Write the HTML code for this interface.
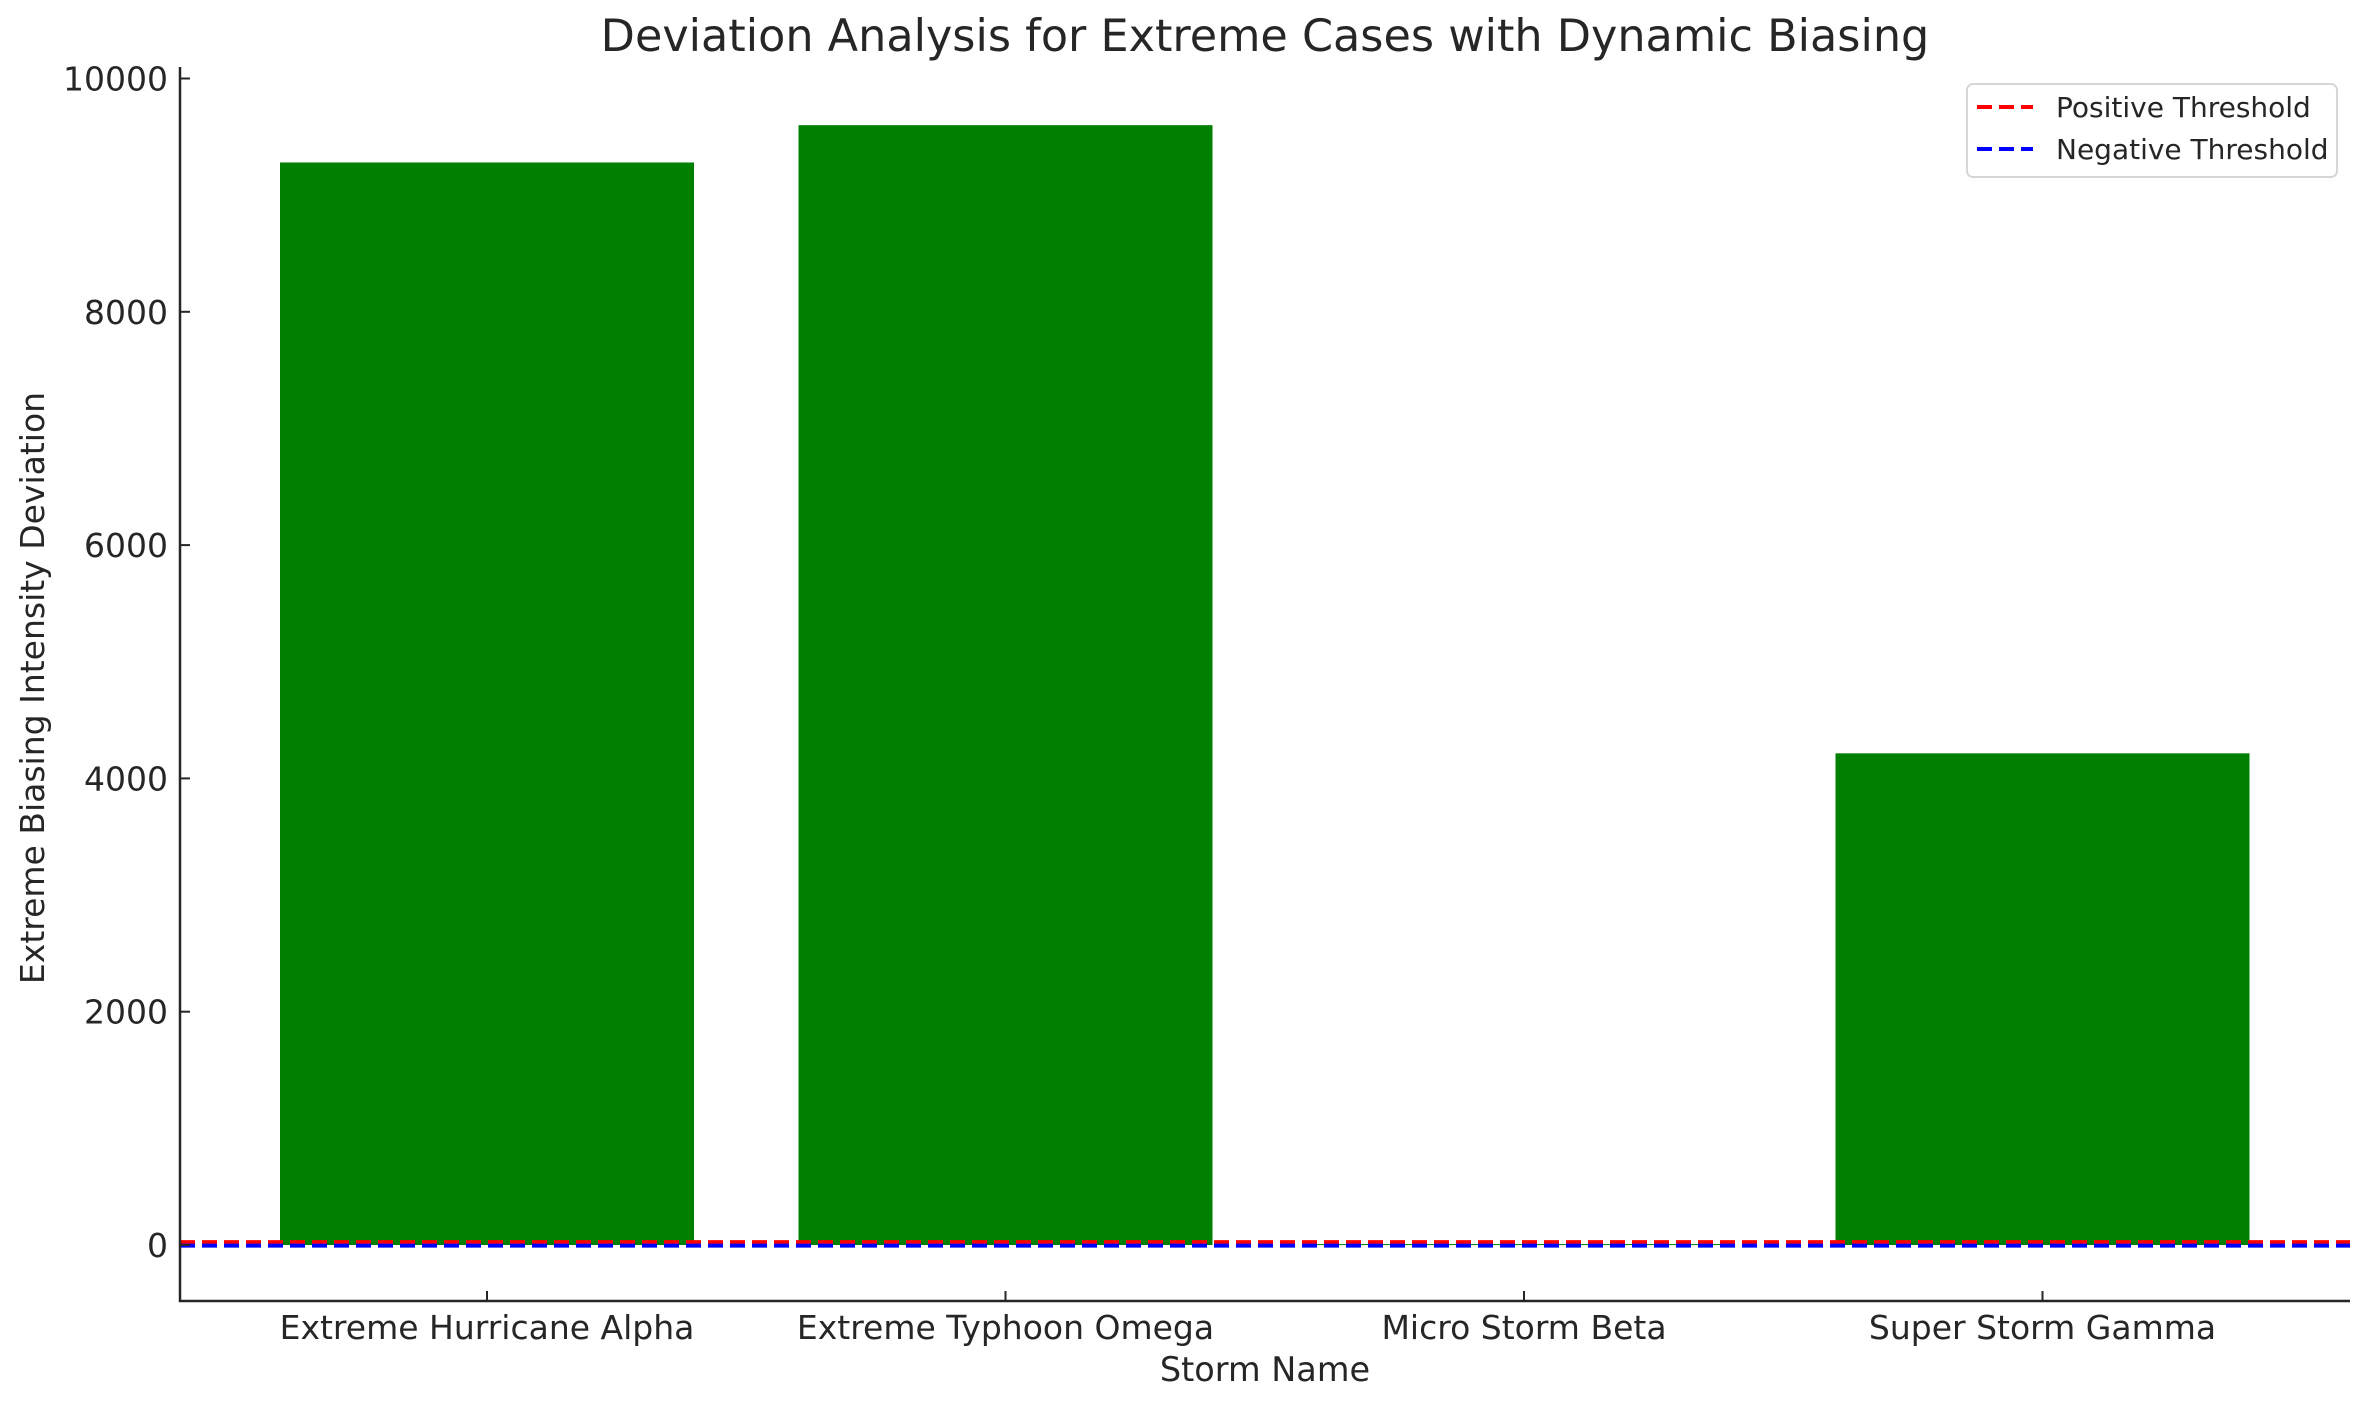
<!DOCTYPE html>
<html><head><meta charset="utf-8"><style>
body{margin:0;background:#fff;}
svg text{font-family:"DejaVu Sans","Liberation Sans",sans-serif;fill:#262626;}
</style></head><body>
<svg id="chart" width="2370" height="1409" xmlns="http://www.w3.org/2000/svg">
<rect width="2370" height="1409" fill="#fff"/>
<text x="1265" y="51" font-size="44.5" text-anchor="middle">Deviation Analysis for Extreme Cases with Dynamic Biasing</text>
<g id="plot"></g>
<text x="1265" y="1381" font-size="33.5" text-anchor="middle">Storm Name</text>
<text transform="translate(44,688) rotate(-90)" font-size="33" text-anchor="middle">Extreme Biasing Intensity Deviation</text>
<g>
<rect x="1967" y="84" width="370" height="93" rx="6" fill="#fff" stroke="#d6d6d6" stroke-width="2"/>
<line x1="1977" y1="107" x2="2033" y2="107" stroke="#ff0000" stroke-width="4" stroke-dasharray="15 7"/>
<text x="2056" y="117" font-size="28">Positive Threshold</text>
<line x1="1977" y1="149" x2="2033" y2="149" stroke="#0000ff" stroke-width="4" stroke-dasharray="15 7"/>
<text x="2056" y="159" font-size="28">Negative Threshold</text>
</g>
</svg>
<script>
const categories=["Extreme Hurricane Alpha","Extreme Typhoon Omega","Micro Storm Beta","Super Storm Gamma"];
const values=[9280,9600,8,4215];
const yTicks=[0,2000,4000,6000,8000,10000];
const thresholds=[25,-5];
const NS="http://www.w3.org/2000/svg";
const g=document.getElementById('plot');
const L=180,R=2350,T=67,B=1301;
const y=v=>1245-v*0.11665;
const xc=i=>487+i*518.5;
const bw=414;
function mk(t,a){const e=document.createElementNS(NS,t);for(const k in a)e.setAttribute(k,a[k]);g.appendChild(e);return e;}
values.forEach((v,i)=>{
  const r=mk('rect',{x:xc(i)-bw/2,y:Math.min(y(v),y(0)),width:bw,height:Math.max(Math.abs(y(0)-y(v)),1),fill:'#008000'});
  
  
});
thresholds.forEach((t,i)=>{
  const l=mk('line',{x1:L,x2:R,y1:y(t),y2:y(t),stroke:i==0?'#ff0000':'#0000ff','stroke-width':4,'stroke-dasharray':'15 7'});
  
  
});
const ax=mk('path',{d:`M${L},${T}V${B}H${R}`,stroke:'#262626','stroke-width':2.5,fill:'none'});


yTicks.forEach(v=>{
  mk('line',{x1:L,x2:L+10,y1:y(v),y2:y(v),stroke:'#262626','stroke-width':2});
  const t=mk('text',{x:L-12,y:y(v)+12,'font-size':33,'text-anchor':'end'});t.textContent=v;
  
  
});
categories.forEach((c,i)=>{
  mk('line',{x1:xc(i),x2:xc(i),y1:B,y2:B-10,stroke:'#262626','stroke-width':2});
  const t=mk('text',{x:xc(i),y:1339,'font-size':33,'text-anchor':'middle'});t.textContent=c;
  
  
});
</script>
</body></html>
